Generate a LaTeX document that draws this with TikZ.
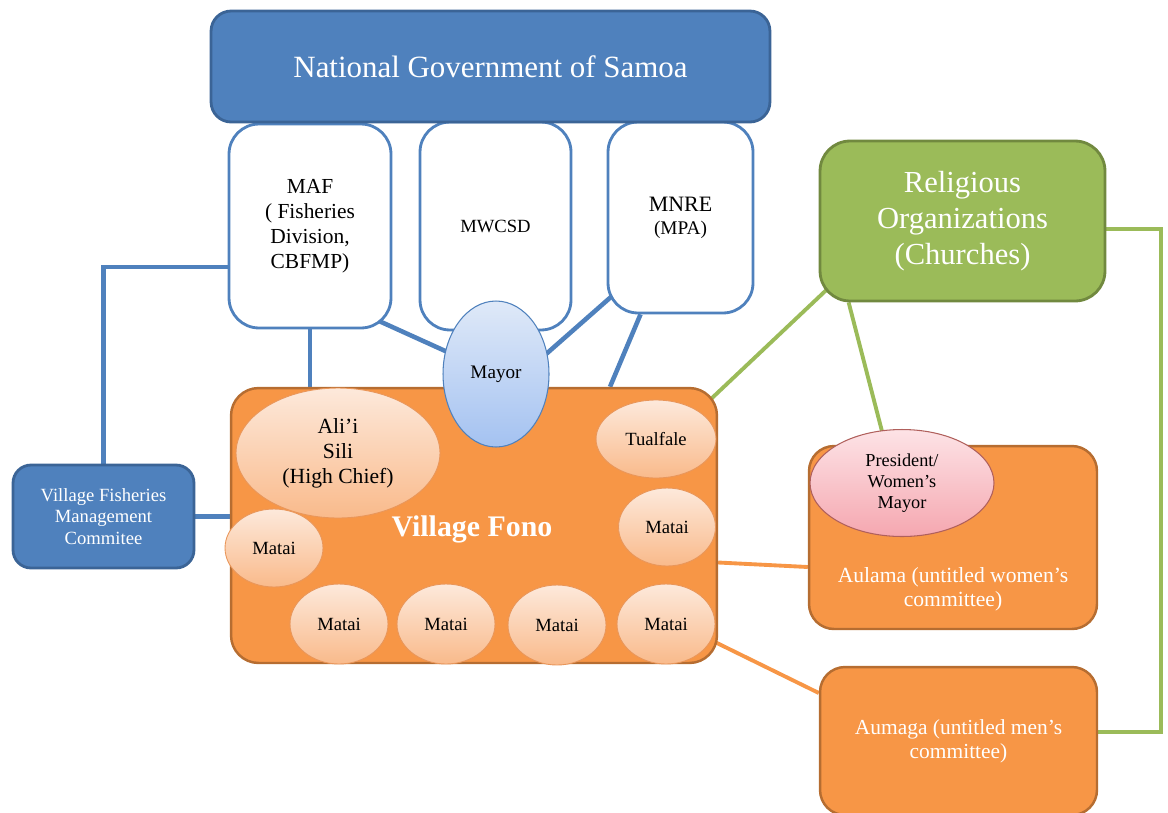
\documentclass[tikz,border=0pt]{standalone}
\usepackage{fontspec}
\setmainfont{Liberation Serif}
\usetikzlibrary{shapes.geometric, calc, backgrounds}

\definecolor{govblue}{HTML}{4F81BD}
\definecolor{govedge}{HTML}{3B6496}
\definecolor{relgreen}{HTML}{9BBB59}
\definecolor{reledge}{HTML}{71893F}
\definecolor{fonoorange}{HTML}{F79646}
\definecolor{fonoedge}{HTML}{B66D31}
\definecolor{peachtop}{HTML}{FDE9DB}
\definecolor{peachbot}{HTML}{F9BA8B}
\definecolor{peachedge}{HTML}{E9965A}
\definecolor{mayortop}{HTML}{DFE9F8}
\definecolor{mayorbot}{HTML}{A4C2F1}
\definecolor{pinktop}{HTML}{FDE3E6}
\definecolor{pinkbot}{HTML}{F5A7B0}
\definecolor{pinkedge}{HTML}{B0605C}

\begin{document}
\begin{tikzpicture}[x=0.02cm, y=-0.02cm,
        govbox/.style     = {draw=govedge, line width=1.6pt, fill=govblue, text=white, align=center, rounded corners=0.4cm},
        minbox/.style     = {draw=govblue, line width=1.6pt, fill=white, align=center, rounded corners=0.6cm},
        fonobox/.style    = {draw=fonoedge, line width=1.4pt, fill=fonoorange, text=white, align=center, rounded corners=0.55cm},
        relbox/.style     = {draw=reledge, line width=1.6pt, fill=relgreen, text=white, align=center, rounded corners=0.6cm},
        matai/.style      = {ellipse, draw=peachedge, line width=0.5pt, top color=peachtop, bottom color=peachbot, align=center, inner sep=0pt, font=\fontsize{10.6}{12}\selectfont},
        blueline/.style   = {draw=govblue, line width=2.6pt},
        greenline/.style  = {draw=relgreen, line width=2.2pt},
        orangeline/.style = {draw=fonoorange, line width=2.2pt}]

    \useasboundingbox (0,0) rectangle (1168,812);

    % national level
    \node[minbox, minimum width=3.24cm, minimum height=4.08cm, font=\fontsize{12.2}{14.2}\selectfont] (maf) at (310,226) {MAF\\( Fisheries\\Division,\\CBFMP)};
    \node[minbox, minimum width=3.02cm, minimum height=4.16cm, font=\fontsize{10.6}{12}\selectfont] (mwcsd) at (495.5,226) {MWCSD};
    \node[minbox, minimum width=2.9cm, minimum height=3.82cm, font=\fontsize{11}{13}\selectfont] (mnre) at (680.5,217.5) {{\fontsize{12.5}{13}\selectfont MNRE}\\(MPA)};
    \node[govbox, minimum width=11.18cm, minimum height=2.22cm, font=\fontsize{17.6}{20}\selectfont] (gov) at (490.5,66.5) {National Government of Samoa};

    % village level
    \node[fonobox, minimum width=9.72cm, minimum height=5.5cm] (fono) at (474,525.5) {};
    \node[text=white, font=\bfseries\fontsize{17}{20}\selectfont] (fonotxt) at (472,529) {Village Fono};
    \node[matai, minimum width=4.08cm, minimum height=2.6cm, font=\fontsize{12.3}{14.2}\selectfont] (alii) at (338,453) {Ali’i\\Sili\\(High Chief)};
    \node[matai, minimum width=2.4cm, minimum height=1.56cm] (tual) at (656,439) {Tualfale};
    \node[matai, minimum width=1.94cm, minimum height=1.56cm] (mr) at (667,527) {Matai};
    \node[matai, minimum width=1.96cm, minimum height=1.56cm] (ml) at (274,548) {Matai};
    \node[matai, minimum width=1.96cm, minimum height=1.6cm] (m1) at (339,624) {Matai};
    \node[matai, minimum width=1.96cm, minimum height=1.6cm] (m2) at (446,624) {Matai};
    \node[matai, minimum width=1.96cm, minimum height=1.6cm] (m3) at (557,625) {Matai};
    \node[matai, minimum width=1.96cm, minimum height=1.6cm] (m4) at (666,624) {Matai};
    \node[ellipse, draw=govblue, line width=0.6pt, top color=mayortop, bottom color=mayorbot, inner sep=0pt, minimum width=2.12cm, minimum height=2.92cm, font=\fontsize{10.9}{12}\selectfont] (mayor) at (496,374) {Mayor};

    \node[govbox, rounded corners=0.36cm, minimum width=3.62cm, minimum height=2.06cm, font=\fontsize{10.6}{12.3}\selectfont] (vfmc) at (103.5,516.5) {Village Fisheries\\Management\\Commitee};

    % churches and committees
    \node[relbox, minimum width=5.7cm, minimum height=3.2cm, font=\fontsize{17.4}{20.4}\selectfont] (rel) at (962.5,221) {Religious\\Organizations\\(Churches)};
    \node[fonobox, rounded corners=0.5cm, minimum width=5.76cm, minimum height=3.66cm] (aulama) at (953,537.5) {};
    \node[text=white, align=center, font=\fontsize{12.3}{13.6}\selectfont] (aulamatxt) at (953,589) {Aulama (untitled women’s\\committee)};
    \node[ellipse, draw=pinkedge, line width=0.6pt, top color=pinktop, bottom color=pinkbot, inner sep=0pt, align=center, minimum width=3.68cm, minimum height=2.14cm, font=\fontsize{10.4}{12}\selectfont] (pres) at (902,483) {President/\\Women’s\\Mayor};
    \node[fonobox, rounded corners=0.5cm, minimum width=5.54cm, minimum height=2.96cm, font=\fontsize{12.2}{13.6}\selectfont] (aumaga) at (958.5,741) {Aumaga (untitled men’s\\committee)};

    \begin{scope}[on background layer]
        \draw[blueline] (vfmc.north) |- ([yshift=-0.82cm]maf.west);
        \draw[blueline] (vfmc.east) -- (vfmc.east -| fono.west);
        \draw[blueline] (maf.south) -- (maf.south |- fono.north);
        \draw[blueline] ($(maf.south east)+(-50,-25)$) -- (mayor.center);
        \draw[blueline] ($(mnre.south west)+(30,-40)$) -- ($(mayor.center)+(24,3)$);
        \draw[blueline] ($(mnre.south)+(-40,0)$) -- ($(fono.north)+(136,0)$);

        \draw[greenline] ($(rel.south west)+(20,-24)$) -- ($(fono.north east)+(-25,29)$);
        \draw[greenline] ($(rel.south west)+(30,0)$) -- ($(pres.center)+(-10,-13)$);
        \draw[greenline] ([yshift=-0.16cm]rel.east) -- ++(55,0) |- ([yshift=0.18cm]aumaga.east);

        \draw[orangeline] ([yshift=-0.74cm]fono.east) -- ([yshift=-0.59cm]aulama.west);
        \draw[orangeline] ($(m4.center)+(0,-6)$) -- ($(aumaga.west)+(0,-48)$);
    \end{scope}

\end{tikzpicture}
\end{document}
